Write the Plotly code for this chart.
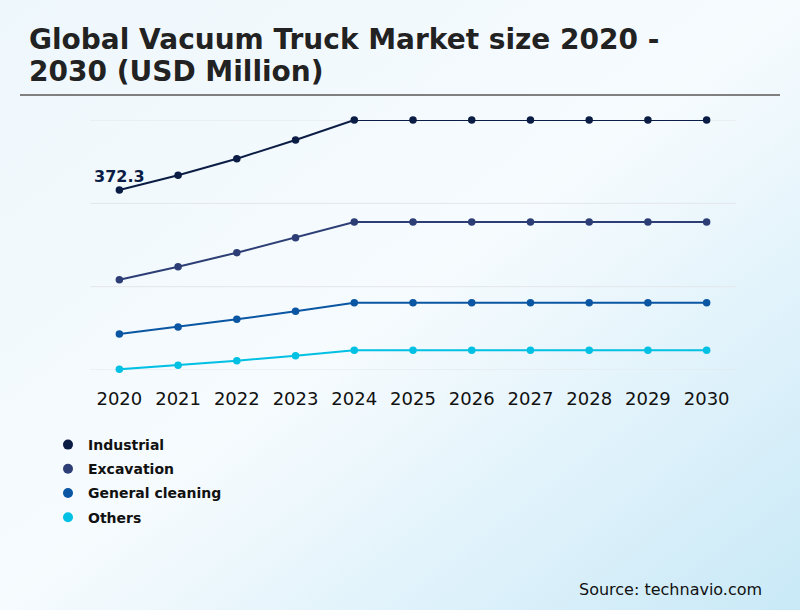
import base64
import plotly.graph_objects as go

years = ["2020", "2021", "2022", "2023", "2024", "2025", "2026", "2027", "2028", "2029", "2030"]
industrial = [372.3, 389.9, 409.9, 432.3, 456.3, 456.3, 456.3, 456.3, 456.3, 456.3, 456.3]
excavation = [264.7, 280.3, 297.1, 315.1, 333.9, 333.9, 333.9, 333.9, 333.9, 333.9, 333.9]
general_cleaning = [199.5, 207.9, 217.1, 226.7, 237.1, 237.1, 237.1, 237.1, 237.1, 237.1, 237.1]
others = [157.1, 161.9, 167.5, 173.5, 179.9, 179.9, 179.9, 179.9, 179.9, 179.9, 179.9]

series = [
    ("Industrial", industrial, "#0b1d45"),
    ("Excavation", excavation, "#2c3e75"),
    ("General cleaning", general_cleaning, "#0a56a3"),
    ("Others", others, "#00c0e4"),
]

y_min, y_max = 156.3, 456.3
grid_vals = [y_min + i * (y_max - y_min) / 3 for i in range(4)]

W_PLOT, H_PLOT = 646, 250

fig = go.Figure()
for name, vals, color in series:
    fig.add_trace(go.Scatter(
        x=list(range(len(years))), y=vals, name=name, mode="lines+markers",
        line=dict(color=color, width=2),
        marker=dict(color=color, size=7.5),
        cliponaxis=False, showlegend=False,
    ))
for name, vals, color in series:
    fig.add_trace(go.Scatter(
        x=[None], y=[None], name=name, mode="markers",
        marker=dict(color=color, size=10), legendgroup=name, showlegend=True,
    ))

fig.add_annotation(
    x=0, y=industrial[0], text="<b>372.3</b>", showarrow=False,
    xref="x", yref="y", xanchor="center", yanchor="bottom", yshift=2,
    font=dict(family="DejaVu Sans", size=16, color="#0b1d45"),
)

svg = ('<svg xmlns="http://www.w3.org/2000/svg" width="800" height="610">'
       '<defs><linearGradient id="g" x1="0" y1="0" x2="1" y2="1">'
       '<stop offset="0" stop-color="#eef7fc"/><stop offset="0.5" stop-color="#f6fbfe"/>'
       '<stop offset="1" stop-color="#c9e9f7"/></linearGradient></defs>'
       '<rect width="800" height="610" fill="url(#g)"/></svg>')
bg = "data:image/svg+xml;base64," + base64.b64encode(svg.encode()).decode()

def px_x(p):
    return (p - 90) / W_PLOT

def px_y(p):
    return (370 - p) / H_PLOT

shapes = [dict(type="line", xref="paper", yref="paper",
               x0=px_x(20), x1=px_x(780), y0=px_y(95), y1=px_y(95),
               line=dict(color="#808080", width=2))]
for gv in grid_vals:
    shapes.append(dict(type="line", xref="paper", yref="y", x0=0, x1=1, y0=gv, y1=gv,
                       layer="below", line=dict(color="#e3e6ea", width=1)))

fig.update_layout(
    width=800, height=610,
    margin=dict(l=90, r=64, t=120, b=240),
    paper_bgcolor="rgba(0,0,0,0)",
    plot_bgcolor="rgba(0,0,0,0)",
    font=dict(family="DejaVu Sans", color="#111111"),
    images=[dict(source=bg, xref="paper", yref="paper", x=px_x(0), y=px_y(0),
                 sizex=800 / W_PLOT, sizey=610 / H_PLOT, xanchor="left", yanchor="top",
                 sizing="stretch", layer="below")],
    showlegend=True,
    legend=dict(
        x=px_x(48), xanchor="left", y=px_y(429), yanchor="top",
        orientation="v", bgcolor="rgba(0,0,0,0)",
        font=dict(family="DejaVu Sans", size=14, color="#111111", weight="bold"),
        tracegroupgap=3, itemwidth=30,
    ),
    xaxis=dict(
        range=[-0.5, 10.5], tickmode="array", tickvals=list(range(len(years))),
        ticktext=years, showgrid=False, zeroline=False, showline=False,
        tickfont=dict(family="DejaVu Sans", size=18, color="#111111"),
        ticks="", ticklen=0, ticklabelstandoff=16,
    ),
    yaxis=dict(
        range=[y_min, y_max], showticklabels=False, showgrid=False,
        zeroline=False, showline=False,
    ),
    shapes=shapes,
)

for txt, yc in [("Global Vacuum Truck Market size 2020 -", 40), ("2030 (USD Million)", 71)]:
    fig.add_annotation(
        text="<b>" + txt + "</b>", xref="paper", yref="paper",
        x=px_x(27), xanchor="left", y=px_y(yc), yanchor="middle",
        showarrow=False, font=dict(family="DejaVu Sans", size=28, color="#222222"),
    )

fig.add_annotation(
    text="Source: technavio.com", xref="paper", yref="paper",
    x=px_x(764), xanchor="right", y=px_y(589), yanchor="middle",
    showarrow=False, font=dict(family="DejaVu Sans", size=16, color="#111111"),
)

fig.write_html(
    "out.html",
    config={"displayModeBar": False},
    post_script="document.body.style.margin='0';document.body.style.overflow='hidden';",
)
